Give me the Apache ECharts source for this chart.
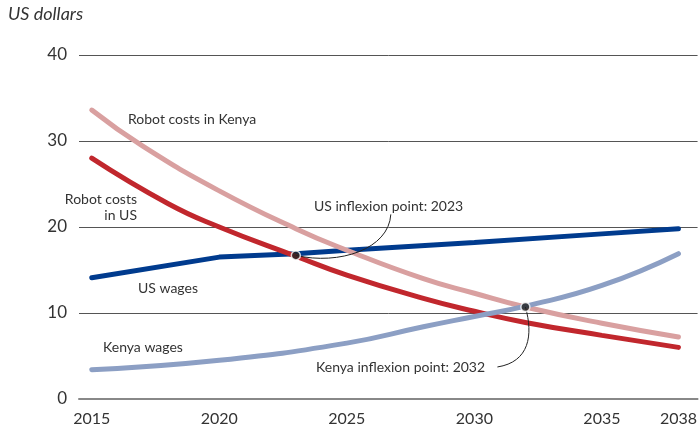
<!DOCTYPE html>
<html>
<head>
<meta charset="utf-8">
<script src="https://cdn.jsdelivr.net/npm/echarts@6/dist/echarts.min.js"></script>
<style>
  html, body { margin: 0; padding: 0; background: #fff; }
  #chart { width: 700px; height: 431px; }
</style>
</head>
<body>
<div id="chart"></div>
<script>
// values (year, US dollars)
var usWages = [[2015, 14.1], [2020, 16.5], [2023, 16.9], [2025, 17.3], [2030, 18.2], [2035, 19.2], [2038, 19.8]];
var kenyaWages = [[2015, 3.4], [2020, 4.5], [2025, 6.5], [2028, 8.4], [2030, 9.6], [2032, 10.8], [2035, 13.2], [2038, 16.9]];
var robotUS = [[2015, 28.0], [2018, 22.7], [2020, 20.0], [2023, 16.6], [2025, 14.4], [2028, 11.7], [2030, 10.2], [2032, 8.9], [2035, 7.4], [2038, 6.0]];
var robotKenya = [[2015, 33.6], [2017, 29.4], [2020, 24.2], [2023, 19.8], [2025, 17.3], [2028, 14.0], [2030, 12.3], [2032, 10.7], [2035, 8.8], [2038, 7.2]];
var inflexions = [[2023, 16.7], [2032, 10.7]];
var yearTicks = [2015, 2020, 2025, 2030, 2035, 2038];

var myChart = echarts.init(document.getElementById('chart'));
var txt = '#333';
var font = 'Lato';

function lineSeries(name, data, color, smooth) {
    return {
        name: name,
        type: 'line',
        data: data,
        smooth: smooth,
        symbol: 'none',
        lineStyle: { color: color, width: 5, cap: 'round' },
        z: 3
    };
}

option = {
    animation: false,
    textStyle: { fontFamily: font },
    grid: { left: 79, right: 0, top: 55, bottom: 32 },
    xAxis: {
        type: 'value',
        min: 2014.5,
        max: 2038.75,
        splitLine: { show: false },
        axisTick: { show: false },
        axisLine: { show: true, lineStyle: { color: '#888', width: 2 } },
        axisLabel: {
            customValues: yearTicks,
            formatter: function (v) { return String(v); },
            color: txt,
            fontSize: 16,
            fontFamily: font,
            margin: 12
        }
    },
    yAxis: {
        type: 'value',
        min: 0,
        max: 40,
        interval: 10,
        axisLine: { show: false },
        axisTick: { show: false },
        splitLine: { lineStyle: { color: '#555', width: 1 } },
        axisLabel: { color: txt, fontSize: 17, fontFamily: font, margin: 12 }
    },
    series: [
        lineSeries('US wages', usWages, '#003b8e', false),
        lineSeries('Robot costs in US', robotUS, '#c1272d', true),
        lineSeries('Robot costs in Kenya', robotKenya, '#d9a0a0', true),
        lineSeries('Kenya wages', kenyaWages, '#8c9fc4', true),
        {
            type: 'scatter',
            data: inflexions,
            symbolSize: 9,
            itemStyle: { color: '#222', borderColor: '#fff', borderWidth: 1.5 },
            z: 5
        }
    ]
};

myChart.setOption(option);

// annotations and connector curves placed from the inflexion points
var pUS = myChart.convertToPixel({ gridIndex: 0 }, inflexions[0]);
var pKe = myChart.convertToPixel({ gridIndex: 0 }, inflexions[1]);

function label(x, y, text, align, extra) {
    var st = {
        text: text,
        fill: txt,
        font: '14px ' + font,
        textAlign: align || 'left',
        textVerticalAlign: 'middle'
    };
    if (extra) { for (var k in extra) st[k] = extra[k]; }
    return { type: 'text', x: x, y: y, style: st, z: 10 };
}

myChart.setOption({
    graphic: [
        {
            type: 'text', left: 8, top: 5, z: 10,
            style: { text: 'US dollars', fill: txt, font: 'italic 18px ' + font }
        },
        label(128, 119, 'Robot costs in Kenya'),
        label(137, 207, 'Robot costs\nin US', 'right', { lineHeight: 16 }),
        label(138, 288, 'US wages'),
        label(103, 347, 'Kenya wages'),
        label(314, 206, 'US inflexion point: 2023'),
        label(316, 367, 'Kenya inflexion point: 2032'),
        {
            type: 'bezierCurve', z: 4,
            shape: {
                x1: pUS[0], y1: pUS[1],
                cpx1: pUS[0] + 43, cpy1: pUS[1] + 10,
                cpx2: pUS[0] + 93, cpy2: pUS[1] - 6,
                x2: pUS[0] + 95, y2: pUS[1] - 41
            },
            style: { stroke: '#222', lineWidth: 1, fill: null }
        },
        {
            type: 'bezierCurve', z: 4,
            shape: {
                x1: pKe[0], y1: pKe[1],
                cpx1: pKe[0] + 8, cpy1: pKe[1] + 28,
                cpx2: pKe[0] + 4, cpy2: pKe[1] + 55,
                x2: pKe[0] - 28, y2: pKe[1] + 60
            },
            style: { stroke: '#222', lineWidth: 1, fill: null }
        }
    ]
});
</script>
</body>
</html>
